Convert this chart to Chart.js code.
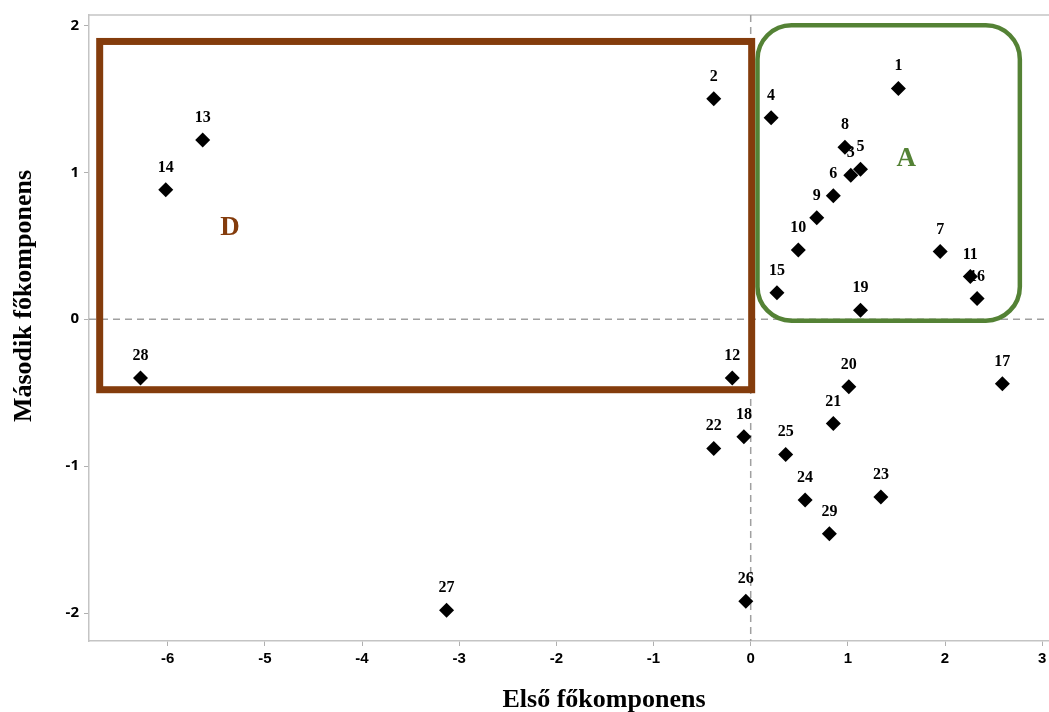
<!DOCTYPE html>
<html>
<head>
<meta charset="utf-8">
<script src="https://cdn.jsdelivr.net/npm/chart.js@4"></script>
<style>
  html, body { margin: 0; padding: 0; background: #fff; overflow: hidden; }
  #wrap { width: 1049px; height: 712px; }
</style>
</head>
<body>
<div id="wrap"><canvas id="pcaChart" width="1049" height="712"></canvas></div>
<script>
// observation labels and scores (first / second principal component)
const pointLabels = ["1", "2", "3", "4", "5", "6", "7", "8", "9", "10",
  "11", "12", "13", "14", "15", "16", "17", "18", "19", "20",
  "21", "22", "23", "24", "25", "26", "27", "28", "29"];
const pc1 = [1.52, -0.38, 1.03, 0.21, 1.13, 0.85, 1.95, 0.97, 0.68, 0.49,
  2.26, -0.19, -5.64, -6.02, 0.27, 2.33, 2.59, -0.07, 1.13, 1.01,
  0.85, -0.38, 1.34, 0.56, 0.36, -0.05, -3.13, -6.28, 0.81];
const pc2 = [1.57, 1.50, 0.98, 1.37, 1.02, 0.84, 0.46, 1.17, 0.69, 0.47,
  0.29, -0.40, 1.22, 0.88, 0.18, 0.14, -0.44, -0.80, 0.06, -0.46,
  -0.71, -0.88, -1.21, -1.23, -0.92, -1.92, -1.98, -0.40, -1.46];

const xTicks = [-6, -5, -4, -3, -2, -1, 0, 1, 2, 3];
const yTicks = [-2, -1, 0, 1, 2];

// group boxes: [xmin, xmax, ymax, ymin] in data units
const boxD = [-6.70, 0.01, 1.89, -0.48];
const boxA = [0.07, 2.77, 2.00, -0.01];
const labelD = [-5.36, 0.62];
const labelA = [1.60, 1.09];

const xTitle = "Első főkomponens";
const yTitle = "Második főkomponens";

const points = pc1.map((x, i) => ({ x: x, y: pc2[i] }));

// let the plot run to the right edge like the original (no label padding)
const stretchRight = {
  id: "stretchRight",
  afterLayout(chart) {
    const xs = chart.scales.x;
    chart.chartArea.right = chart.width;
    chart.chartArea.width = chart.chartArea.right - chart.chartArea.left;
    xs.right = chart.width;
    xs.width = xs.right - xs.left;
    xs.configure();
  }
};

const overlay = {
  id: "overlay",
  beforeDatasetsDraw(chart) {
    const { ctx, chartArea, scales } = chart;
    const xs = scales.x, ys = scales.y;
    ctx.save();
    // top frame line
    ctx.strokeStyle = "#c4c4c4";
    ctx.lineWidth = 1.5;
    ctx.beginPath();
    ctx.moveTo(chartArea.left, chartArea.top);
    ctx.lineTo(chartArea.right, chartArea.top);
    ctx.stroke();
    // dashed zero lines
    ctx.strokeStyle = "#a0a0a0";
    ctx.lineWidth = 1.5;
    ctx.setLineDash([7, 5]);
    ctx.beginPath();
    ctx.moveTo(xs.getPixelForValue(0), chartArea.top);
    ctx.lineTo(xs.getPixelForValue(0), chartArea.bottom);
    ctx.moveTo(chartArea.left, ys.getPixelForValue(0));
    ctx.lineTo(chartArea.right, ys.getPixelForValue(0));
    ctx.stroke();
    ctx.setLineDash([]);

    // box D
    ctx.strokeStyle = "#843c0c";
    ctx.lineWidth = 7;
    const dl = xs.getPixelForValue(boxD[0]), dr = xs.getPixelForValue(boxD[1]);
    const dt = ys.getPixelForValue(boxD[2]), db = ys.getPixelForValue(boxD[3]);
    ctx.strokeRect(dl, dt, dr - dl, db - dt);

    // box A (rounded)
    ctx.strokeStyle = "#548235";
    ctx.lineWidth = 4.5;
    const al = xs.getPixelForValue(boxA[0]), ar = xs.getPixelForValue(boxA[1]);
    const at = ys.getPixelForValue(boxA[2]), ab = ys.getPixelForValue(boxA[3]);
    ctx.beginPath();
    ctx.roundRect(al, at, ar - al, ab - at, 34);
    ctx.stroke();

    ctx.font = "bold 27px 'Liberation Serif', 'Times New Roman', serif";
    ctx.textAlign = "center";
    ctx.textBaseline = "middle";
    ctx.fillStyle = "#843c0c";
    ctx.fillText("D", xs.getPixelForValue(labelD[0]), ys.getPixelForValue(labelD[1]));
    ctx.fillStyle = "#548235";
    ctx.fillText("A", xs.getPixelForValue(labelA[0]), ys.getPixelForValue(labelA[1]));
    ctx.restore();
  },
  afterDatasetsDraw(chart) {
    const { ctx } = chart;
    const meta = chart.getDatasetMeta(0);
    ctx.save();
    ctx.font = "bold 16px 'Liberation Serif', 'Times New Roman', serif";
    ctx.fillStyle = "#000";
    ctx.textAlign = "center";
    ctx.textBaseline = "alphabetic";
    meta.data.forEach((pt, i) => {
      ctx.fillText(pointLabels[i], pt.x, pt.y - 18);
    });

    // axis titles
    ctx.font = "bold 26px 'Liberation Serif', 'Times New Roman', serif";
    ctx.textAlign = "center";
    ctx.fillText(xTitle, 604, 707);
    ctx.translate(31, 296);
    ctx.rotate(-Math.PI / 2);
    ctx.fillText(yTitle, 0, 0);
    ctx.restore();
  }
};

const ctx = document.getElementById("pcaChart").getContext("2d");
new Chart(ctx, {
  type: "scatter",
  data: {
    datasets: [
      {
        data: points,
        pointStyle: "rectRot",
        pointRadius: 7.5,
        pointHoverRadius: 7.5,
        backgroundColor: "#000",
        borderColor: "#000",
        borderWidth: 0,
      },
    ],
  },
  options: {
    responsive: false,
    animation: false,
    layout: { padding: { top: 15, right: 0, left: 0, bottom: 0 } },
    plugins: {
      legend: { display: false },
      tooltip: { enabled: false },
    },
    scales: {
      x: {
        type: "linear",
        min: -6.81,
        max: 3.07,
        afterBuildTicks: (axis) => { axis.ticks = xTicks.map((v) => ({ value: v })); },
        afterFit: (axis) => { axis.height = 71; },
        ticks: {
          color: "#000",
          padding: 4,
          font: { family: "'Liberation Sans', Arial, sans-serif", size: 15, weight: "bold" },
        },
        grid: { drawOnChartArea: false, drawTicks: true, tickLength: 5, color: "#b0b0b0" },
        border: { display: true, color: "#c4c4c4", width: 1.5 },
      },
      y: {
        type: "linear",
        min: -2.19,
        max: 2.07,
        afterBuildTicks: (axis) => { axis.ticks = yTicks.map((v) => ({ value: v })); },
        afterFit: (axis) => { axis.width = 89; axis.paddingTop = 0; axis.paddingBottom = 0; },
        ticks: {
          color: "#000",
          padding: 5,
          font: { family: "'Open Sans', 'Liberation Sans', sans-serif", size: 15, weight: "bold" },
        },
        grid: { drawOnChartArea: false, drawTicks: true, tickLength: 5, color: "#b0b0b0" },
        border: { display: true, color: "#c4c4c4", width: 1.5 },
      },
    },
  },
  plugins: [stretchRight, overlay],
});
</script>
</body>
</html>
